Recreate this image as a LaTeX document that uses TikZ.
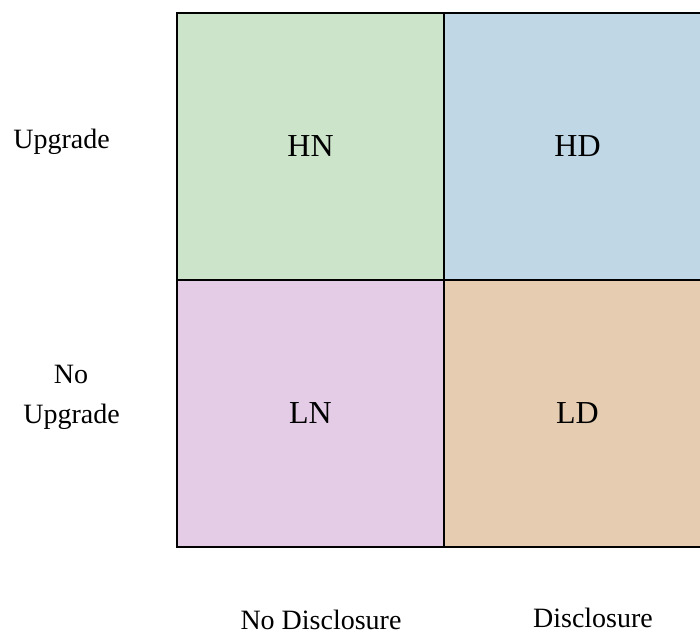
\documentclass[tikz,border=0pt]{standalone}
\usepackage{fontspec}
\setmainfont{Liberation Serif}
\begin{document}
\begin{tikzpicture}[x=1pt,y=-1pt,
  cell/.style={draw=black,line width=2pt,minimum width=267pt,minimum height=267pt,inner sep=0pt,anchor=north west,font=\fontsize{32}{38}\selectfont},
  lbl/.style={font=\fontsize{28}{34}\selectfont,inner sep=0pt,anchor=base}]
\useasboundingbox (0,0) rectangle (700,636);
\definecolor{cgreen}{HTML}{CCE4CA}
\definecolor{cblue}{HTML}{C0D8E6}
\definecolor{cpink}{HTML}{E4CBE6}
\definecolor{ctan}{HTML}{E6CCB1}
\node[cell,fill=cgreen] (hn) at (176,12) {HN};
\node[cell,fill=cblue] (hd) at (443,12) {HD};
\node[cell,fill=cpink] (ln) at (176,279) {LN};
\node[cell,fill=ctan] (ld) at (443,279) {LD};
\node[lbl] (up) at (61.5,149) {Upgrade};
\node[lbl] (no) at (71,383) {No};
\node[lbl] (noup) at (71.5,423) {Upgrade};
\node[lbl] (nd) at (321,629.5) {No Disclosure};
\node[lbl] (d) at (593,627) {Disclosure};
\end{tikzpicture}
\end{document}
